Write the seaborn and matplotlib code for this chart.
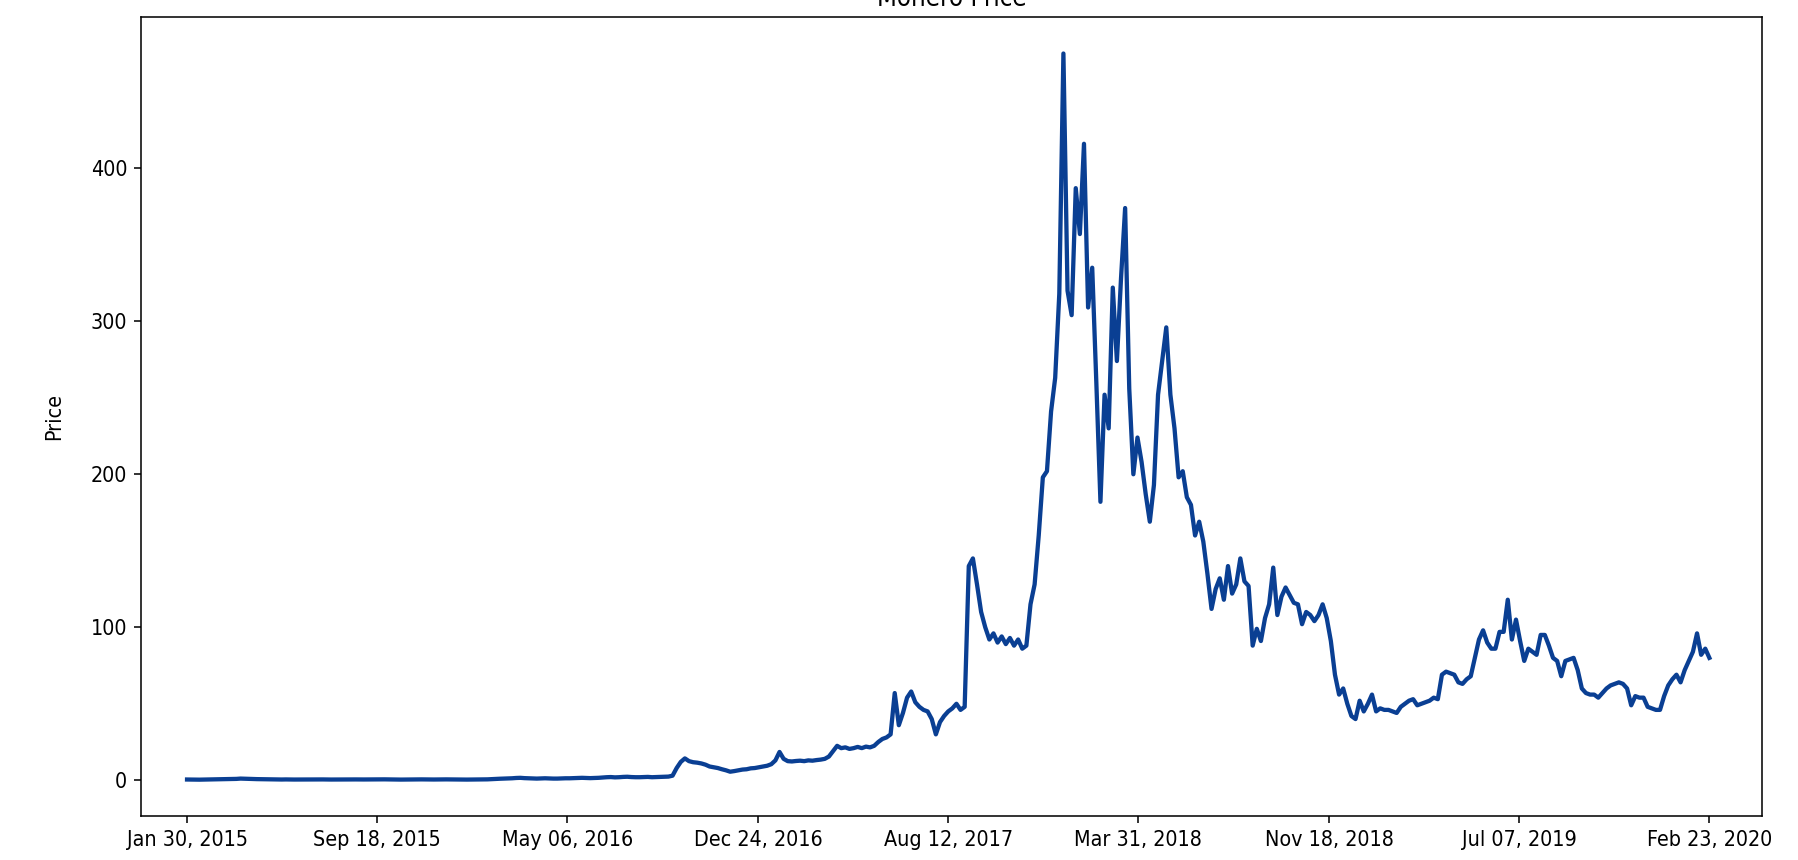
import matplotlib
matplotlib.use("Agg")
import matplotlib.pyplot as plt
from matplotlib import font_manager
import pandas as pd
import seaborn as sns

# Monero closing price, one reading every 5 days from 2015-01-30 to 2020-02-23
start_date = "2015-01-30"
step = "5D"
prices = [
    0.5, 0.45, 0.42, 0.4, 0.45, 0.5, 0.48, 0.55, 0.6, 0.65,
    0.7, 0.8, 0.9, 1.1, 1.0, 0.9, 0.8, 0.75, 0.7, 0.7,
    0.6, 0.55, 0.5, 0.5, 0.55, 0.5, 0.48, 0.5, 0.52, 0.5,
    0.5, 0.55, 0.6, 0.55, 0.5, 0.48, 0.5, 0.55, 0.6, 0.62,
    0.6, 0.55, 0.5, 0.52, 0.55, 0.6, 0.65, 0.7, 0.6, 0.55,
    0.5, 0.48, 0.45, 0.48, 0.5, 0.55, 0.6, 0.58, 0.55, 0.52,
    0.5, 0.55, 0.6, 0.58, 0.55, 0.5, 0.48, 0.45, 0.45, 0.48,
    0.45, 0.48, 0.5, 0.6, 0.75, 0.9, 1.0, 1.1, 1.2, 1.3,
    1.5, 1.6, 1.4, 1.3, 1.2, 1.1, 1.2, 1.3, 1.2, 1.1,
    1.1, 1.2, 1.3, 1.3, 1.4, 1.5, 1.6, 1.5, 1.4, 1.5,
    1.6, 1.8, 2.0, 2.1, 1.9, 2.0, 2.2, 2.3, 2.1, 2.0,
    2.0, 2.1, 2.2, 2.0, 2.1, 2.2, 2.3, 2.4, 3.0, 8.0,
    12.0, 14.3, 12.5, 11.8, 11.5, 11.0, 10.2, 9.0, 8.5, 8.0,
    7.2, 6.5, 5.6, 6.0, 6.5, 7.0, 7.2, 7.8, 8.0, 8.5,
    9.0, 9.5, 10.5, 13.0, 18.5, 14.0, 12.5, 12.3, 12.6, 12.8,
    12.5, 13.0, 12.8, 13.2, 13.5, 14.0, 15.5, 19.0, 22.5, 21.0,
    21.5, 20.5, 21.0, 21.8, 21.0, 22.0, 21.5, 22.5, 25.0, 27.0,
    28.0, 30.0, 57.0, 36.0, 44.0, 54.0, 58.0, 51.0, 48.0, 46.0,
    45.0, 40.0, 30.0, 38.0, 42.0, 45.0, 47.0, 50.0, 46.0, 48.0,
    140.0, 145.0, 128.0, 110.0, 100.0, 92.0, 96.0, 90.0, 94.0, 89.0,
    93.0, 88.0, 92.0, 86.0, 88.0, 115.0, 128.0, 160.0, 198.0, 202.0,
    241.0, 263.0, 318.0, 475.0, 320.0, 304.0, 387.0, 357.0, 416.0, 309.0,
    335.0, 260.0, 182.0, 252.0, 230.0, 322.0, 274.0, 328.0, 374.0, 256.0,
    200.0, 224.0, 208.0, 187.0, 169.0, 193.0, 252.0, 274.0, 296.0, 252.0,
    230.0, 198.0, 202.0, 185.0, 180.0, 160.0, 169.0, 156.0, 135.0, 112.0,
    125.0, 132.0, 118.0, 140.0, 122.0, 128.0, 145.0, 130.0, 127.0, 88.0,
    99.0, 91.0, 106.0, 115.0, 139.0, 108.0, 120.0, 126.0, 121.0, 116.0,
    115.0, 102.0, 110.0, 108.0, 104.0, 108.0, 115.0, 106.0, 91.0, 69.0,
    56.0, 60.0, 50.0, 42.0, 40.0, 52.0, 45.0, 50.0, 56.0, 45.0,
    47.0, 46.0, 46.0, 45.0, 44.0, 48.0, 50.0, 52.0, 53.0, 49.0,
    50.0, 51.0, 52.0, 54.0, 53.0, 69.0, 71.0, 70.0, 69.0, 64.0,
    63.0, 66.0, 68.0, 80.0, 92.0, 98.0, 90.0, 86.0, 86.0, 97.0,
    97.0, 118.0, 92.0, 105.0, 91.0, 78.0, 86.0, 84.0, 82.0, 95.0,
    95.0, 88.0, 80.0, 78.0, 68.0, 78.0, 79.0, 80.0, 72.0, 60.0,
    57.0, 56.0, 56.0, 54.0, 57.0, 60.0, 62.0, 63.0, 64.0, 63.0,
    60.0, 49.0, 55.0, 54.0, 54.0, 48.0, 47.0, 46.0, 46.0, 55.0,
    62.0, 66.0, 69.0, 64.0, 72.0, 78.0, 84.0, 96.0, 82.0, 86.0,
    80.0,
]

tick_labels = ["Jan 30, 2015", "Sep 18, 2015", "May 06, 2016", "Dec 24, 2016",
               "Aug 12, 2017", "Mar 31, 2018", "Nov 18, 2018", "Jul 07, 2019",
               "Feb 23, 2020"]

df = pd.DataFrame({"Date": pd.date_range(start_date, periods=len(prices), freq=step),
                   "Price": prices})

# the reference uses a narrow sans face
fonts = font_manager.fontManager.ttflist
if any(f.name == "DejaVu Sans" and f.stretch == "condensed" for f in fonts):
    plt.rcParams["font.stretch"] = "condensed"
    fsize = 11
elif any(f.name == "Liberation Sans Narrow" for f in fonts):
    plt.rcParams["font.family"] = ["Liberation Sans Narrow", "DejaVu Sans"]
    fsize = 12
else:
    fsize = 9.5
plt.rcParams["font.size"] = fsize

fig, ax = plt.subplots(figsize=(1798 / 140, 860 / 140), dpi=140)
fig.subplots_adjust(left=0.0784, right=0.98, bottom=0.0512, top=0.980)

sns.lineplot(x="Date", y="Price", data=df, ax=ax, color="#0a3f93", linewidth=2.2)

ticks = pd.to_datetime(tick_labels, format="%b %d, %Y")
ax.set_xticks(ticks)
ax.set_xticklabels(tick_labels)
ax.set_xlim(ticks[0] - pd.Timedelta(days=56), ticks[-1] + pd.Timedelta(days=64))
ax.set_yticks([0, 100, 200, 300, 400])
ax.set_xlabel("")
ax.set_ylabel("Price", labelpad=14)
ax.set_title("Monero Price")

fig.savefig("out.png", dpi=140)
